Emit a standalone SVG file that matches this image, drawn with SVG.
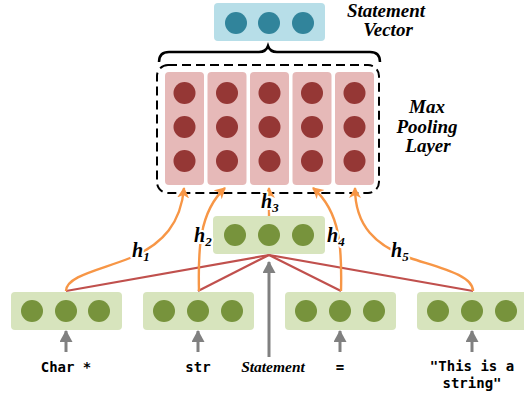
<svg xmlns="http://www.w3.org/2000/svg" width="524" height="393" viewBox="0 0 524 393">
  <style>
    .gbox { fill: #d7e4bd; }
    .gdot { fill: #77933c; }
    .pbox { fill: #e6b9b8; }
    .pdot { fill: #953735; }
    .bbox { fill: #b7dee8; }
    .bdot { fill: #31849b; }
    .red { stroke: #c0504d; stroke-width: 2.2; fill: none; }
    .orange { stroke: #f79646; stroke-width: 2.4; fill: none; marker-end: url(#oarrow); }
    .grey { stroke: #808080; stroke-width: 3; fill: none; marker-end: url(#garrow); }
    .lbl { font-family: "Liberation Serif", "Times New Roman", serif; font-weight: bold; font-style: italic; fill: #000; }
    .hl { font-family: "Liberation Serif", "Times New Roman", serif; font-weight: bold; font-style: italic; font-size: 20px; fill: #000;
          stroke: #fff; stroke-width: 4; paint-order: stroke; stroke-linejoin: round; }
    .code { font-family: "DejaVu Sans Mono", "Liberation Mono", monospace; font-weight: bold; font-size: 14px; fill: #000; text-anchor: middle; }
  </style>
  <defs>
    <marker id="oarrow" markerUnits="userSpaceOnUse" markerWidth="14" markerHeight="14" refX="10" refY="6" orient="auto">
      <path d="M0,0 L11,6 L0,12 L3,6 Z" fill="#f79646"/>
    </marker>
    <marker id="garrow" markerUnits="userSpaceOnUse" markerWidth="14" markerHeight="14" refX="11" refY="6.5" orient="auto">
      <path d="M0,0 L12,6.5 L0,13 Z" fill="#808080"/>
    </marker>
  </defs>

  <!-- statement vector -->
  <g id="statement-vector">
    <rect class="bbox" x="214" y="3" width="111" height="38" rx="4"/>
    <circle class="bdot" cx="236" cy="23" r="11"/>
    <circle class="bdot" cx="269" cy="23" r="11"/>
    <circle class="bdot" cx="303" cy="23" r="11"/>
    <text class="lbl" font-size="19" text-anchor="middle" x="386" y="17">Statement</text>
    <text class="lbl" font-size="19" text-anchor="middle" x="388" y="36">Vector</text>
  </g>

  <!-- max pooling layer -->
  <g id="max-pooling">
    <path d="M159,62 Q159,52 169,52 L259,52 Q266,52 268,46 Q270,52 277,52 L370,52 Q380,52 380,62" fill="none" stroke="#000" stroke-width="2.5"/>
    <rect x="157" y="65" width="222" height="128" rx="11" fill="none" stroke="#000" stroke-width="2" stroke-dasharray="9 5"/>
    <g id="pool-col-1">
      <rect class="pbox" x="165" y="72" width="39" height="113" rx="4"/>
      <circle class="pdot" cx="184.5" cy="93" r="11"/>
      <circle class="pdot" cx="184.5" cy="127" r="11"/>
      <circle class="pdot" cx="184.5" cy="161" r="11"/>
    </g>
    <g id="pool-col-2">
      <rect class="pbox" x="207.5" y="72" width="39" height="113" rx="4"/>
      <circle class="pdot" cx="227" cy="93" r="11"/>
      <circle class="pdot" cx="227" cy="127" r="11"/>
      <circle class="pdot" cx="227" cy="161" r="11"/>
    </g>
    <g id="pool-col-3">
      <rect class="pbox" x="250" y="72" width="39" height="113" rx="4"/>
      <circle class="pdot" cx="269.5" cy="93" r="11"/>
      <circle class="pdot" cx="269.5" cy="127" r="11"/>
      <circle class="pdot" cx="269.5" cy="161" r="11"/>
    </g>
    <g id="pool-col-4">
      <rect class="pbox" x="292.5" y="72" width="39" height="113" rx="4"/>
      <circle class="pdot" cx="312" cy="93" r="11"/>
      <circle class="pdot" cx="312" cy="127" r="11"/>
      <circle class="pdot" cx="312" cy="161" r="11"/>
    </g>
    <g id="pool-col-5">
      <rect class="pbox" x="335" y="72" width="39" height="113" rx="4"/>
      <circle class="pdot" cx="354.5" cy="93" r="11"/>
      <circle class="pdot" cx="354.5" cy="127" r="11"/>
      <circle class="pdot" cx="354.5" cy="161" r="11"/>
    </g>
    <text class="lbl" font-size="19" text-anchor="middle" x="427" y="113">Max</text>
    <text class="lbl" font-size="19" text-anchor="middle" x="427" y="132.5">Pooling</text>
    <text class="lbl" font-size="19" text-anchor="middle" x="428" y="152">Layer</text>
  </g>

  <!-- statement node -->
  <g id="statement-node">
    <rect class="gbox" x="213" y="216" width="112" height="38" rx="4"/>
    <circle class="gdot" cx="235" cy="235" r="11"/>
    <circle class="gdot" cx="269" cy="235" r="11"/>
    <circle class="gdot" cx="303" cy="235" r="11"/>
  </g>

  <!-- token nodes -->
  <g id="token-char">
    <rect class="gbox" x="11" y="292" width="111" height="38" rx="4"/>
    <circle class="gdot" cx="32" cy="311" r="11"/>
    <circle class="gdot" cx="66" cy="311" r="11"/>
    <circle class="gdot" cx="99" cy="311" r="11"/>
    <text class="code" x="66" y="372">Char *</text>
  </g>
  <g id="token-str">
    <rect class="gbox" x="143" y="292" width="111" height="38" rx="4"/>
    <circle class="gdot" cx="164" cy="311" r="11"/>
    <circle class="gdot" cx="198" cy="311" r="11"/>
    <circle class="gdot" cx="232" cy="311" r="11"/>
    <text class="code" x="198" y="372">str</text>
  </g>
  <g id="token-eq">
    <rect class="gbox" x="285" y="292" width="111" height="38" rx="4"/>
    <circle class="gdot" cx="306" cy="311" r="11"/>
    <circle class="gdot" cx="340" cy="311" r="11"/>
    <circle class="gdot" cx="374" cy="311" r="11"/>
    <text class="code" x="340" y="372">=</text>
  </g>
  <g id="token-string">
    <rect class="gbox" x="417" y="292" width="111" height="38" rx="4"/>
    <circle class="gdot" cx="438" cy="311" r="11"/>
    <circle class="gdot" cx="472" cy="311" r="11"/>
    <circle class="gdot" cx="506" cy="311" r="11"/>
    <text class="code" x="472" y="371">"This is a</text>
    <text class="code" x="472" y="388">string"</text>
  </g>
  <text class="lbl" font-size="15.5" text-anchor="middle" x="273" y="372">Statement</text>

  <!-- connectors -->
  <g id="connectors">
    <line class="red" x1="269" y1="255" x2="66" y2="291"/>
    <line class="red" x1="269" y1="255" x2="198" y2="291"/>
    <line class="red" x1="269" y1="255" x2="341" y2="291"/>
    <line class="red" x1="269" y1="255" x2="473" y2="291"/>

    <line class="grey" x1="66" y1="352" x2="66" y2="331"/>
    <line class="grey" x1="198" y1="352" x2="198" y2="331"/>
    <line class="grey" x1="340" y1="352" x2="340" y2="331"/>
    <line class="grey" x1="472" y1="352" x2="472" y2="331"/>
    <line class="grey" x1="269" y1="357" x2="269" y2="262"/>

    <path class="orange" d="M66,291 C66,276 100,270 130,258 C164,244 181,222 184,188"/>
    <path class="orange" d="M199,291 C198,250 199,212 225,188"/>
    <path class="orange" d="M269,216 L269,188"/>
    <path class="orange" d="M341,291 C342,250 341,212 313,188"/>
    <path class="orange" d="M473,291 C473,275 440,268 410,258 C376,246 355,226 355,188"/>

    <text class="hl" x="132" y="257">h<tspan font-size="13" dy="4">1</tspan></text>
    <text class="hl" x="194" y="242">h<tspan font-size="13" dy="4">2</tspan></text>
    <text class="hl" x="261" y="208">h<tspan font-size="13" dy="4">3</tspan></text>
    <text class="hl" x="327" y="242">h<tspan font-size="13" dy="4">4</tspan></text>
    <text class="hl" x="391" y="257">h<tspan font-size="13" dy="4">5</tspan></text>
  </g>
</svg>
